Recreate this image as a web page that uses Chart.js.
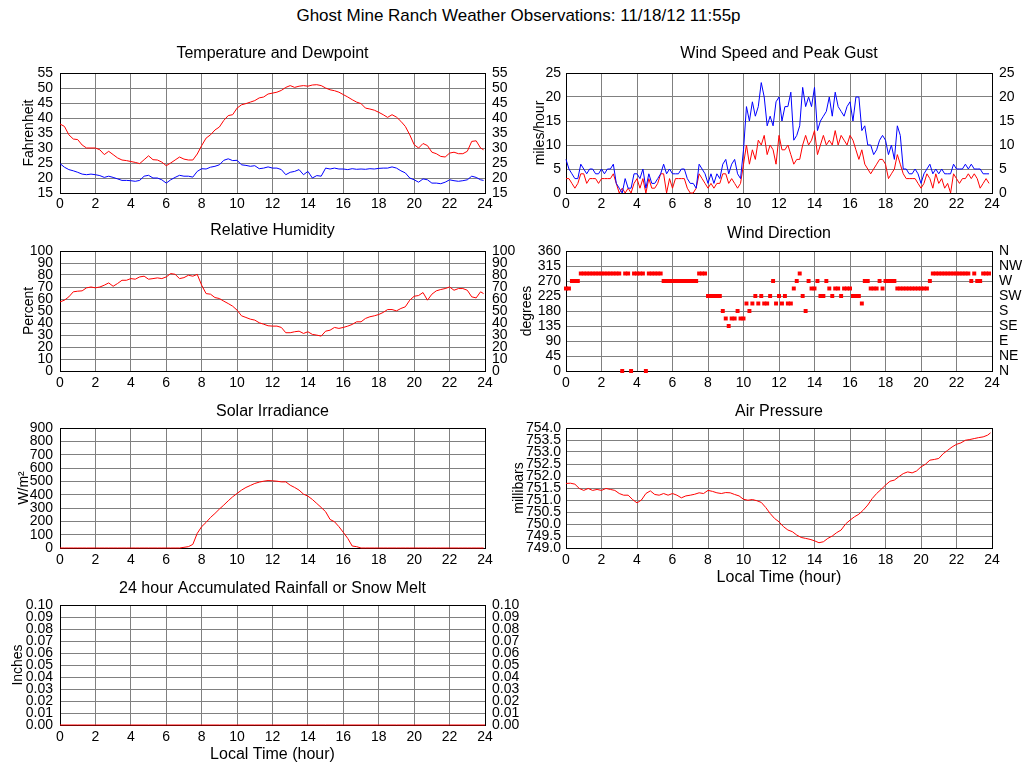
<!DOCTYPE html>
<html><head><meta charset="utf-8">
<script src="https://cdn.jsdelivr.net/npm/chart.js@4.4.1/dist/chart.umd.min.js"></script>
<style>
html,body{margin:0;padding:0;background:#fff;width:1024px;height:768px;overflow:hidden;}
canvas{position:absolute;}
#main{position:absolute;left:0;width:1037px;top:7px;text-align:center;font:17px "Liberation Sans",Arial,sans-serif;line-height:18px;color:#000;}
</style></head><body>
<div id="main">Ghost Mine Ranch Weather Observations: 11/18/12 11:55p</div>
<canvas id="cTemp"></canvas>
<canvas id="cRH"></canvas>
<canvas id="cSolar"></canvas>
<canvas id="cRain"></canvas>
<canvas id="cWind"></canvas>
<canvas id="cDir"></canvas>
<canvas id="cPres"></canvas>
<script>
// ---------- time grids (hours of the day) ----------
const HOURS_15 = Array.from({length: 96}, (_, i) => i / 4).concat([23.92]);
const HOURS_10 = Array.from({length: 144}, (_, i) => i / 6);
const HOURS_1 = Array.from({length: 25}, (_, i) => i);
const X_TICK_STEP = 2;

// ---------- data ----------
const TEMPERATURE = [
  38.0, 37.2, 34.4, 33.0,  32.8, 31.0, 30.0, 30.0,  30.0, 29.4, 27.8, 28.9,
  27.8, 26.7, 26.0, 25.8,  25.5, 25.2, 24.8, 26.1,  27.4, 26.1, 26.0, 25.3,
  24.1, 25.0, 26.0, 27.0,  26.3, 26.0, 26.0, 28.0,  30.8, 33.3, 34.4, 36.0,
  37.0, 39.2, 40.8, 41.1,  43.3, 44.4, 44.8, 45.3,  45.8, 46.7, 47.0, 48.0,
  48.3, 48.6, 49.2, 50.2,  50.8, 50.2, 50.6, 50.8,  50.6, 51.0, 51.1, 50.8,
  50.0, 49.4, 49.1, 48.6,  47.8, 47.0, 46.1, 45.3,  44.8, 43.3, 43.0, 42.6,
  41.9, 41.1, 40.2, 41.1,  40.3, 38.9, 37.2, 34.4,  31.1, 30.0, 31.5, 30.8,
  28.6, 28.1, 27.2, 27.0,  28.3, 28.6, 28.1, 28.1,  28.9, 32.2, 32.4, 30.0,
  29.4
];
const DEWPOINT = [
  24.8, 23.6, 22.8, 22.4,  21.9, 21.3, 21.1, 21.3,  21.1, 20.8, 20.2, 20.6,
  20.2, 19.7, 19.2, 19.2,  19.1, 18.9, 19.2, 20.6,  20.9, 20.0, 20.0, 19.4,
  18.3, 19.4, 20.2, 20.9,  20.6, 20.6, 20.3, 22.2,  23.1, 23.0, 23.6, 23.9,
  24.4, 25.9, 26.4, 25.8,  25.9, 24.4, 24.2, 23.9,  24.1, 23.1, 23.3, 23.7,
  23.3, 23.3, 22.8, 21.1,  21.9, 22.2, 22.8, 21.1,  22.2, 20.0, 20.8, 20.6,
  23.3, 23.0, 23.3, 23.0,  23.0, 22.8, 23.1, 22.9,  23.0, 22.9, 23.1, 23.0,
  23.2, 23.3, 23.3, 23.7,  23.3, 22.4, 21.7, 20.0,  19.4, 18.6, 19.7, 19.4,
  18.3, 18.3, 18.1, 18.6,  19.4, 19.1, 18.9, 19.1,  19.4, 20.6, 20.2, 19.4,
  19.2
];
const HUMIDITY = [
  57.6, 59.0, 61.8, 66.0,  66.5, 66.8, 69.3, 70.0,  69.3, 70.0, 71.5, 73.4,
  70.6, 72.9, 75.6, 75.6,  77.0, 76.5, 78.4, 79.0,  76.5, 77.0, 77.6, 77.0,
  78.4, 81.2, 80.6, 77.0,  77.8, 79.8, 79.0, 80.5,  71.5, 64.5, 64.0, 61.2,
  60.4, 58.2, 56.2, 54.0,  50.7, 46.0, 44.6, 43.2,  42.4, 40.2, 39.0, 37.7,
  37.4, 37.4, 36.3, 31.9,  31.9, 32.7, 33.2, 31.3,  32.7, 30.5, 29.9, 29.1,
  33.2, 34.0, 36.3, 35.5,  36.3, 37.4, 38.8, 41.0,  41.0, 43.8, 45.2, 46.0,
  47.1, 48.8, 51.2, 51.2,  50.1, 52.1, 53.5, 59.0,  62.3, 62.9, 65.4, 59.0,
  64.0, 66.8, 67.9, 68.7,  70.0, 67.3, 68.7, 68.7,  67.3, 61.8, 60.9, 66.0,
  64.5
];
const SOLAR = [
  0, 0, 0, 0,  0, 0, 0, 0,  0, 0, 0, 0,  0, 0, 0, 0,  0, 0, 0, 0,  0, 0, 0, 0,
  0, 0, 0, 0,  5, 10, 27, 110,  160, 192, 229, 259,  292, 322, 354, 384,
  409, 434, 454, 469,  484, 494, 501, 506,  504, 501, 496, 496,  471, 454, 434, 404,
  389, 364, 334, 304,  272, 214, 197, 160,  117, 72, 15, 10,  0, 0, 0, 0,
  0, 0, 0, 0,  0, 0, 0, 0,  0, 0, 0, 0,  0, 0, 0, 0,  0, 0, 0, 0,  0, 0, 0, 0,
  0
];
const PRESSURE = [
  751.69, 751.70, 751.66, 751.48,  751.40, 751.48, 751.40, 751.44,  751.40, 751.48, 751.44, 751.40,
  751.27, 751.20, 751.20, 751.02,  750.88, 751.00, 751.27, 751.38,  751.23, 751.20, 751.27, 751.20,
  751.27, 751.20, 751.09, 751.17,  751.20, 751.24, 751.30, 751.27,  751.40, 751.36, 751.30, 751.27,
  751.31, 751.30, 751.23, 751.17,  751.03, 750.99, 751.02, 750.97,  750.90, 750.69, 750.44, 750.23,
  750.09, 749.89, 749.75, 749.68,  749.54, 749.44, 749.40, 749.36,  749.30, 749.22, 749.26, 749.40,
  749.50, 749.64, 749.75, 750.00,  750.16, 750.30, 750.41, 750.58,  750.79, 751.06, 751.27, 751.44,
  751.62, 751.78, 751.83, 751.97,  752.10, 752.17, 752.13, 752.21,  752.38, 752.49, 752.66, 752.69,
  752.73, 752.93, 753.07, 753.21,  753.32, 753.38, 753.49, 753.52,  753.56, 753.60, 753.63, 753.70,
  753.80
];
const RAINFALL = [0, 0, 0, 0, 0, 0, 0, 0, 0, 0, 0, 0, 0, 0, 0, 0, 0, 0, 0, 0, 0, 0, 0, 0, 0];

const WIND_SPEED = [
  3, 3, 2, 1, 2, 4,   4, 2, 3, 3, 3, 2,   3, 3, 3, 3, 4, 2,   0, 1, 0, 1, 0, 2,
  3, 1, 3, 0, 3, 1,   1, 2, 4, 4, 0, 3,   1, 3, 3, 3, 3, 1,   0, 0, 1, 4, 3, 2,
  1, 2, 1, 2, 2, 4,   4, 2, 3, 2, 1, 2,   6, 10, 6, 9, 7, 11,  10, 12, 8, 10, 9, 6,
  12, 9, 9, 10, 8, 6,  7, 7, 10, 12, 10, 11,  13, 8, 10, 12, 10, 11,  10, 13, 10, 12, 11, 10,
  12, 11, 9, 7, 9, 6,  5, 4, 5, 6, 7, 7,   6, 3, 4, 5, 8, 6,   4, 3, 3, 3, 3, 2,
  1, 2, 4, 3, 1, 4,   2, 3, 1, 2, 0, 4,   3, 2, 3, 3, 4, 3,   4, 3, 1, 2, 3, 2
];
const WIND_GUST = [
  7, 5, 4, 3, 3, 6,   5, 4, 5, 5, 4, 4,   5, 4, 5, 5, 6, 2,   1, 0, 3, 1, 1, 4,
  4, 3, 5, 1, 4, 2,   2, 3, 4, 6, 4, 5,   4, 4, 4, 5, 5, 3,   2, 2, 1, 6, 5, 4,
  2, 4, 2, 4, 3, 6,   7, 4, 6, 7, 4, 3,   9, 18, 15, 19, 16, 18,  23, 20, 14, 16, 14, 19,
  20, 15, 18, 18, 21, 11,  12, 14, 22, 18, 20, 18,  22, 13, 15, 16, 17, 20,  16, 21, 18, 17, 16, 18,
  19, 15, 20, 20, 13, 14,  10, 10, 8, 9, 11, 12,  11, 8, 10, 7, 14, 12,  5, 5, 4, 4, 5, 4,
  2, 4, 5, 6, 4, 5,   4, 5, 4, 4, 4, 6,   5, 5, 5, 6, 5, 6,   5, 5, 5, 4, 4, 4
];
const WIND_DIRECTION = [
  247.5, 247.5, 270, 270, 270, 292.5,
  292.5, 292.5, 292.5, 292.5, 292.5, 292.5,
  292.5, 292.5, 292.5, 292.5, 292.5, 292.5,
  292.5, 0, 292.5, 292.5, 0, 292.5,
  292.5, 292.5, 292.5, 0, 292.5, 292.5,
  292.5, 292.5, 292.5, 270, 270, 270,
  270, 270, 270, 270, 270, 270,
  270, 270, 270, 292.5, 292.5, 292.5,
  225, 225, 225, 225, 225, 180,
  157.5, 135, 157.5, 157.5, 180, 157.5,
  157.5, 202.5, 180, 202.5, 225, 202.5,
  225, 202.5, 202.5, 225, 270, 202.5,
  225, 202.5, 225, 202.5, 202.5, 247.5,
  270, 292.5, 225, 180, 270, 247.5,
  247.5, 270, 225, 225, 270, 247.5,
  225, 247.5, 247.5, 225, 247.5, 247.5,
  247.5, 225, 225, 225, 202.5, 270,
  270, 247.5, 247.5, 247.5, 270, 247.5,
  270, 270, 270, 270, 247.5, 247.5,
  247.5, 247.5, 247.5, 247.5, 247.5, 247.5,
  247.5, 247.5, 247.5, 270, 292.5, 292.5,
  292.5, 292.5, 292.5, 292.5, 292.5, 292.5,
  292.5, 292.5, 292.5, 292.5, 292.5, 270,
  292.5, 270, 270, 292.5, 292.5, 292.5
];
const COMPASS_LABELS = ['N', 'NE', 'E', 'SE', 'S', 'SW', 'W', 'NW', 'N'];

// ---------- rendering ----------
const FONT = '"Liberation Sans", Arial, Helvetica, sans-serif';
Chart.defaults.font.family = FONT;
Chart.defaults.color = '#000';
const RED = '#ff0000', BLUE = '#0000ff', GRID = '#808080', BLACK = '#000000';

function pts(xs, ys) { return xs.map((x, i) => ({x: x, y: ys[i]})); }
function lineDs(xs, ys, color) {
  return {data: pts(xs, ys), borderColor: color, backgroundColor: color, borderWidth: 1,
          pointRadius: 0, tension: 0, fill: false, clip: false};
}

function panel(o) {
  const cv = document.getElementById(o.id);
  const xH = o.xTitle ? 45 : 25;
  const w = o.col === 0 ? 530 : 524;
  const left = o.col === 0 ? 0 : 500;
  const leftW = o.col === 0 ? 60 : 66;
  const rightW = o.col === 0 ? 45 : 32;
  const h = 30 + 120 + xH;
  cv.width = w; cv.height = h;
  cv.style.width = w + 'px'; cv.style.height = h + 'px';
  cv.style.left = left + 'px'; cv.style.top = (o.plotTop - 30) + 'px';
  const isEdge = (v, a, b) => Math.abs(v - a) < 1e-9 || Math.abs(v - b) < 1e-9;
  const yTicks = (show, pad, cb) => ({display: show, stepSize: o.step, autoSkip: false, padding: pad,
      font: {size: 14}, color: BLACK, callback: cb});
  new Chart(cv, {
    type: 'line',
    data: {datasets: o.datasets},
    options: {
      responsive: false, animation: false, devicePixelRatio: 1,
      layout: {padding: 0},
      events: [],
      plugins: {
        legend: {display: false}, tooltip: {enabled: false},
        title: {display: true, text: o.title, color: BLACK, fullSize: false,
                font: {size: 16, weight: 'normal', lineHeight: 1.2},
                padding: {top: 20.4 - o.gap, bottom: o.gap - 9.6}}
      },
      scales: {
        x: {type: 'linear', position: 'bottom', min: 0, max: 24,
            ticks: {stepSize: X_TICK_STEP, autoSkip: false, maxRotation: 0, padding: o.xPad,
                    font: {size: 14}, color: BLACK},
            grid: {drawTicks: false, lineWidth: 1,
                   color: c => (c.tick && isEdge(c.tick.value, 0, 24)) ? BLACK : GRID},
            border: {color: BLACK, width: 1},
            title: o.xTitle ? {display: true, text: 'Local Time (hour)', color: BLACK,
                               font: {size: 16}, padding: {top: 0, bottom: 5.4}} : {display: false},
            afterFit: s => { s.height = xH; }},
        y: {type: 'linear', position: 'left', min: o.min, max: o.max,
            ticks: yTicks(true, o.col === 0 ? 7 : 5, o.fmt),
            grid: {drawTicks: false, lineWidth: 1,
                   color: c => (c.tick && isEdge(c.tick.value, o.min, o.max)) ? BLACK : GRID},
            border: {color: BLACK, width: 1},
            title: {display: true, text: o.yTitle, color: BLACK, font: {size: 14},
                    padding: {top: o.yTitlePad, bottom: 0}},
            afterFit: s => { s.width = leftW; }},
        y2: {type: 'linear', position: 'right', min: o.min, max: o.max,
             ticks: yTicks(!!o.right, 7, o.rightFmt || o.fmt),
             grid: {drawOnChartArea: false, drawTicks: false},
             border: {color: BLACK, width: 1},
             afterFit: s => { s.width = rightW; }}
      }
    }
  });
}

const fmtInt = v => String(Math.round(v));

panel({id: 'cTemp', col: 0, plotTop: 73, gap: 19, xPad: 3, title: 'Temperature and Dewpoint',
       min: 15, max: 55, step: 5, fmt: fmtInt, yTitle: 'Fahrenheit', yTitlePad: 20.9, right: true,
       datasets: [lineDs(HOURS_15, TEMPERATURE, RED), lineDs(HOURS_15, DEWPOINT, BLUE)]});
panel({id: 'cWind', col: 1, plotTop: 73, gap: 19, xPad: 3, title: 'Wind Speed and Peak Gust',
       min: 0, max: 25, step: 5, fmt: fmtInt, yTitle: 'miles/hour', yTitlePad: 31.6, right: true,
       datasets: [lineDs(HOURS_10, WIND_GUST, BLUE), lineDs(HOURS_10, WIND_SPEED, RED)]});
panel({id: 'cRH', col: 0, plotTop: 251, gap: 20, xPad: 4, title: 'Relative Humidity',
       min: 0, max: 100, step: 10, fmt: fmtInt, yTitle: 'Percent', yTitlePad: 20.9, right: true,
       datasets: [lineDs(HOURS_15, HUMIDITY, RED)]});
panel({id: 'cDir', col: 1, plotTop: 251, gap: 17, xPad: 4, title: 'Wind Direction',
       min: 0, max: 360, step: 45, fmt: fmtInt, yTitle: 'degrees', yTitlePad: 18.3, right: true,
       rightFmt: v => COMPASS_LABELS[Math.round(v / 45)],
       datasets: [{data: pts(HOURS_10, WIND_DIRECTION), showLine: false, pointStyle: 'rect',
                   pointRadius: 2.8, pointBorderWidth: 0, pointBackgroundColor: RED,
                   borderColor: RED, backgroundColor: RED, clip: false}]});
panel({id: 'cSolar', col: 0, plotTop: 428, gap: 16.3, xPad: 4, title: 'Solar Irradiance',
       min: 0, max: 900, step: 100, fmt: fmtInt, yTitle: 'W/m\u00B2', yTitlePad: 15.6, right: false,
       datasets: [lineDs(HOURS_15, SOLAR, RED)]});
panel({id: 'cPres', col: 1, plotTop: 428, gap: 16.3, xPad: 4, xTitle: true, title: 'Air Pressure',
       min: 749, max: 754, step: 0.5, fmt: v => Number(v).toFixed(1), yTitle: 'millibars',
       yTitlePad: 10.9, right: false,
       datasets: [lineDs(HOURS_15, PRESSURE, RED)]});
panel({id: 'cRain', col: 0, plotTop: 605, gap: 16, xPad: 4, xTitle: true,
       title: '24 hour Accumulated Rainfall or Snow Melt',
       min: 0, max: 0.1, step: 0.01, fmt: v => Number(v).toFixed(2), yTitle: 'Inches',
       yTitlePad: 9.6, right: true,
       datasets: [lineDs(HOURS_1, RAINFALL, RED)]});
</script>
</body></html>
